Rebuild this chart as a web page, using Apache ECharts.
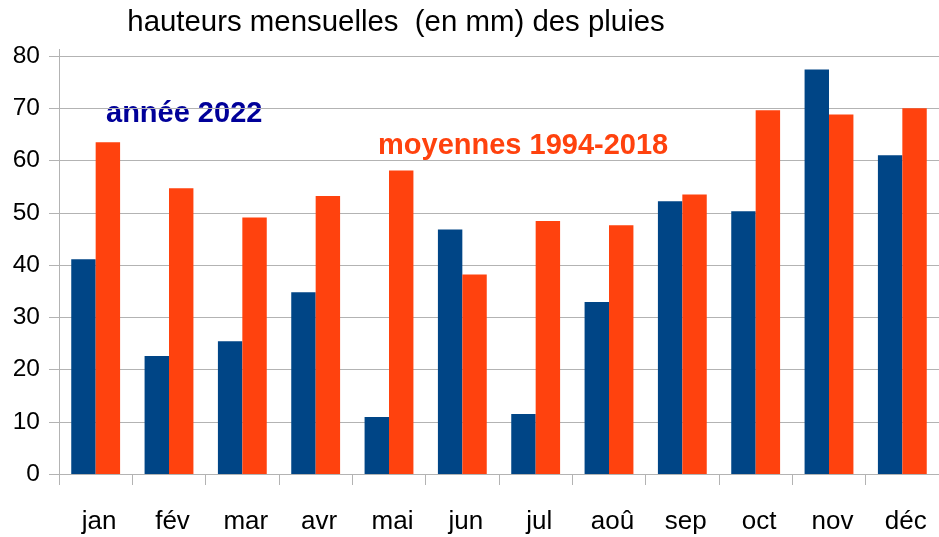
<!DOCTYPE html>
<html><head><meta charset="utf-8">
<script src="https://cdn.jsdelivr.net/npm/echarts@6/dist/echarts.min.js"></script>
<style>html,body{margin:0;padding:0;background:#fff}#c{width:939px;height:537px}</style>
</head><body><div id="c"></div>
<script>
const months = ['jan','fév','mar','avr','mai','jun','jul','aoû','sep','oct','nov','déc'];
const annee2022 = [41.1, 22.6, 25.4, 34.8, 10.9, 46.8, 11.5, 32.9, 52.2, 50.3, 77.4, 61.0];
const moyennes = [63.5, 54.7, 49.1, 53.2, 58.1, 38.2, 48.4, 47.6, 53.5, 69.6, 68.8, 70.0];
const yTicks = [0, 10, 20, 30, 40, 50, 60, 70, 80];
const titleText = 'hauteurs mensuelles  (en mm) des pluies';
const label2022 = 'année 2022';
const labelMoy = 'moyennes 1994-2018';

const chart = echarts.init(document.getElementById('c'), null, {renderer: 'canvas'});
const font = '"Liberation Sans", Arial, sans-serif';
chart.setOption({
  animation: false,
  backgroundColor: '#fff',
  grid: {left: 59, right: 0, top: 56, bottom: 63, containLabel: false},
  xAxis: {
    type: 'category', data: months,
    axisLine: {show: true, lineStyle: {color: '#b3b3b3', width: 1}},
    axisTick: {show: true, length: 11, lineStyle: {color: '#b3b3b3'}},
    axisLabel: {color: '#000', fontSize: 26, fontFamily: font, margin: 35, padding: [0, 0, 0, 7]}
  },
  yAxis: {
    type: 'value', min: yTicks[0], max: yTicks[yTicks.length-1], interval: 10,
    axisLine: {show: true, lineStyle: {color: '#b3b3b3', width: 1}},
    axisTick: {show: true, length: 10, lineStyle: {color: '#b3b3b3'}},
    splitLine: {show: true, lineStyle: {color: '#b3b3b3', width: 1}},
    axisLabel: {color: '#000', fontSize: 24.5, fontFamily: font, margin: 19}
  },
  series: [
    {type: 'bar', name: label2022, data: annee2022, barWidth: '33.3%', barGap: '0%', itemStyle: {color: '#004586'}},
    {type: 'bar', name: labelMoy, data: moyennes, barWidth: '33.3%', barGap: '0%', itemStyle: {color: '#ff420e'}}
  ],
  graphic: [
    {type: 'line', shape: {x1: 59.5, y1: 49, x2: 59.5, y2: 56}, style: {stroke: '#b3b3b3', lineWidth: 1}},
    {type: 'text', x: 396, y: 23, style: {text: titleText, font: '29.4px ' + font, fill: '#000', align: 'center', verticalAlign: 'middle'}},
    {type: 'text', x: 106, y: 114, style: {text: label2022, font: 'bold 29px ' + font, fill: '#000099', align: 'left', verticalAlign: 'middle'}},
    {type: 'text', x: 378, y: 146, style: {text: labelMoy, font: 'bold 29px ' + font, fill: '#ff420e', align: 'left', verticalAlign: 'middle'}}
  ]
});
</script></body></html>
